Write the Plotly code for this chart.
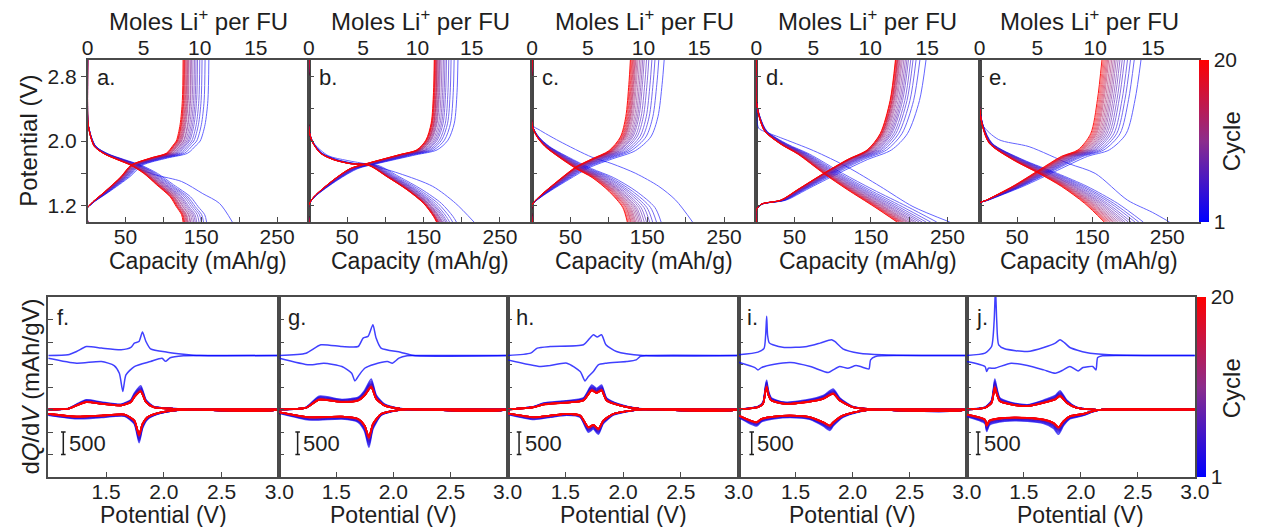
import plotly.graph_objects as go
from plotly.colors import sample_colorscale

W, H = 1262, 527
FONT = "Liberation Sans"
TXT = "#1e1e1e"

# ---------------- colour scale (cycle 1 -> 20) ----------------
cycle_colorscale = [[0.0, "rgb(0,0,255)"], [0.5, "rgb(140,45,140)"], [1.0, "rgb(255,0,0)"]]
cycles = list(range(1, 21))

# ---------------- TOP ROW: potential vs capacity ----------------
top_labels = ["a.", "b.", "c.", "d.", "e."]
cap_per_mole = [14.8, 14.2, 14.5, 14.9, 15.4]        # mAh/g per mole Li+ (top axis)

# panel a
a_ch_cap = [0, 0, 3, 7, 22, 44, 57, 83, 104, 113, 117, 122, 125, 126]
a_ch_V = [1.0, 1.18, 1.21, 1.25, 1.37, 1.56, 1.70, 1.79, 1.85, 1.95, 2.0, 2.2, 2.5, 3.0]
a_dis_cap = [0, 0, 0.4, 4, 9, 22, 39, 57, 74, 91, 109, 117, 124, 126]
a_dis_V = [3.0, 2.3, 2.22, 2.05, 1.93, 1.84, 1.77, 1.70, 1.60, 1.46, 1.31, 1.19, 1.09, 1.0]
a_dis1_cap = [0, 0, 2, 8, 20, 35, 50, 67, 90, 124, 152, 174, 191]
a_dis1_V = [3.0, 2.3, 2.12, 1.97, 1.86, 1.80, 1.75, 1.66, 1.58, 1.50, 1.35, 1.23, 1.0]
a_ch_end = [160, 155, 151, 148, 145, 143, 141, 139, 137, 136, 134, 133, 132, 131, 130, 129, 128, 127.5, 127, 126]
a_dis_end = [157, 153, 150, 147, 144, 142, 140, 138, 136, 135, 133, 132, 131, 130, 129, 128, 127.5, 127, 126]

# panel b
b_ch_cap = [0, 0, 6.5, 32, 54, 75, 118, 141, 153, 160, 163, 164]
b_ch_V = [1.0, 1.21, 1.31, 1.52, 1.66, 1.72, 1.83, 1.89, 2.01, 2.22, 2.6, 3.0]
b_dis_cap = [0, 0, 4.5, 15, 32, 54, 78, 102, 128, 150, 163, 167]
b_dis_V = [3.0, 2.15, 1.99, 1.85, 1.77, 1.72, 1.70, 1.56, 1.40, 1.23, 1.07, 1.0]
b_dis1_cap = [0, 0, 6, 25, 50, 78, 118, 162, 192, 216]
b_dis1_V = [3.0, 2.15, 1.98, 1.82, 1.76, 1.71, 1.60, 1.44, 1.23, 1.0]
b_ch_end = [195, 190, 186, 183, 180, 178, 176, 174, 172, 171, 170, 169, 168, 167.5, 167, 166, 165.5, 165, 164.5, 164]
b_dis_end = [193, 188, 184, 181, 179, 177, 175, 174, 173, 172, 171, 170, 169.5, 169, 168.5, 168, 167.5, 167.2, 167]

# panel c
c_ch_cap = [0, 0, 9, 35, 57, 78, 100, 115, 122, 126, 128]
c_ch_V = [1.0, 1.21, 1.31, 1.52, 1.68, 1.78, 1.88, 2.05, 2.3, 2.7, 3.0]
c_dis_cap = [0, 0, 6.5, 17, 35, 57, 78, 100, 118, 124]
c_dis_V = [3.0, 2.2, 2.05, 1.93, 1.80, 1.66, 1.55, 1.38, 1.18, 1.0]
c_dis1_cap = [0, 0, 9, 35, 78, 104, 135, 165, 187, 209]
c_dis1_V = [3.0, 2.2, 2.14, 2.0, 1.80, 1.72, 1.60, 1.44, 1.27, 1.0]
c_ch_end = [172, 165, 160, 156, 152, 149, 146, 144, 142, 140, 138, 136.5, 135, 134, 133, 132, 131, 130, 129, 128]
c_dis_end = [168, 162, 157, 153, 149, 146, 143, 141, 139, 137, 135, 133.5, 132, 130.5, 129, 128, 126.5, 125, 124]

# panel d
d_ch_cap = [0, 0, 6.5, 32, 54, 88, 119, 145, 162, 175, 182]
d_ch_V = [1.0, 1.15, 1.22, 1.27, 1.40, 1.60, 1.77, 1.89, 2.09, 2.5, 3.0]
d_dis_cap = [0, 0, 4, 11, 32, 54, 88, 119, 154, 184]
d_dis_V = [3.0, 2.5, 2.29, 2.12, 1.96, 1.84, 1.60, 1.40, 1.19, 1.0]
d_dis1_cap = [0, 0, 3, 10, 32, 75, 119, 162, 205, 253]
d_dis1_V = [3.0, 2.5, 2.16, 2.12, 2.04, 1.88, 1.68, 1.44, 1.19, 1.0]
d_ch_end = [222, 214, 209, 205, 202, 199, 197, 195, 193, 191, 189.5, 188, 187, 186, 185, 184.5, 184, 183, 182.5, 182]
d_dis_end = [236, 228, 222, 217, 213, 209, 206, 203, 200, 198, 196, 194, 192, 190.5, 189, 187.5, 186.5, 185, 184]

# panel e
e_ch_cap = [0, 0, 9, 44, 79, 109, 131, 148, 157, 163]
e_ch_V = [1.0, 1.23, 1.27, 1.44, 1.64, 1.81, 1.89, 2.09, 2.51, 3.0]
e_dis_cap = [0, 0, 4, 13, 44, 79, 109, 140, 166]
e_dis_V = [3.0, 2.42, 2.18, 1.97, 1.77, 1.60, 1.44, 1.23, 1.0]
e_dis1_cap = [0, 0, 4, 25, 66, 119, 154, 197, 230, 253]
e_dis1_V = [3.0, 2.42, 2.20, 2.02, 1.93, 1.72, 1.60, 1.27, 1.12, 1.0]
e_ch_end = [215, 206, 201, 197, 193, 190, 187, 184.5, 182, 180, 178, 176, 174, 172, 170.5, 169, 167.5, 166, 164.5, 163]
e_dis_end = [218, 212, 207, 202, 198, 194, 191, 188, 185, 182.5, 180, 178, 176, 174, 172, 170.5, 169, 167.5, 166]

# ---------------- BOTTOM ROW: dQ/dV vs potential ----------------
bot_labels = ["f.", "g.", "h.", "i.", "j."]

# panel f
f_c1_ch_V = [1.0, 1.17, 1.245, 1.33, 1.46, 1.63, 1.715, 1.745, 1.785, 1.815, 1.845, 1.885, 2.03, 2.17, 2.31, 3.0]
f_c1_ch_q = [0, 15, 89, 200, 164, 126, 178, 275, 312, 520, 312, 149, 74, 30, 0, 0]
f_c1_dis_V = [1.0, 1.245, 1.46, 1.57, 1.615, 1.645, 1.672, 1.745, 1.885, 1.985, 2.015, 2.055, 2.17, 2.31, 3.0]
f_c1_dis_q = [-60, -171, -134, -223, -394, -800, -430, -245, -134, -60, -130, -50, -7, 0, 0]
f_ch_V = [1.0, 1.17, 1.245, 1.33, 1.46, 1.63, 1.715, 1.745, 1.80, 1.845, 1.91, 2.085, 2.26, 2.99, 3.0]
f_ch_q = [0, 15, 89, 164, 126, 89, 164, 275, 400, 164, 52, 15, 0, 0, 120]
f_dis_V = [1.0, 1.245, 1.46, 1.66, 1.745, 1.786, 1.815, 1.857, 1.943, 2.085, 2.26, 3.0]
f_dis_q = [-97, -156, -134, -112, -245, -560, -320, -171, -82, -22, 0, 0]
f_fac = [1.32, 1.24, 1.18, 1.14, 1.11, 1.09, 1.07, 1.06, 1.05, 1.04, 1.03, 1.025, 1.02, 1.015, 1.01, 1.007, 1.004, 1.002, 1.0]

# panel g
g_c1_ch_V = [1.0, 1.234, 1.363, 1.548, 1.691, 1.734, 1.777, 1.82, 1.848, 1.891, 2.062, 2.177, 3.0]
g_c1_ch_q = [0, 52, 238, 200, 200, 387, 424, 684, 387, 164, 74, 0, 0]
g_c1_dis_V = [1.0, 1.263, 1.39, 1.548, 1.634, 1.662, 1.70, 1.748, 1.834, 1.948, 1.991, 2.048, 2.12, 2.177, 3.0]
g_c1_dis_q = [-60, -208, -171, -245, -394, -565, -431, -283, -193, -134, -171, -60, -7, 0, 0]
g_ch_V = [1.0, 1.234, 1.348, 1.548, 1.691, 1.748, 1.805, 1.848, 1.92, 2.062, 2.205, 2.99, 3.0]
g_ch_q = [0, 37, 216, 164, 200, 312, 498, 238, 89, 15, 0, 0, 120]
g_dis_V = [1.0, 1.263, 1.548, 1.691, 1.748, 1.785, 1.82, 1.891, 1.977, 2.12, 3.0]
g_dis_q = [-60, -171, -156, -208, -357, -617, -320, -97, -37, 0, 0]
g_fac = [1.36, 1.27, 1.2, 1.15, 1.12, 1.1, 1.08, 1.065, 1.05, 1.04, 1.03, 1.025, 1.02, 1.015, 1.01, 1.007, 1.004, 1.002, 1.0]

# panel h
h_c1_ch_V = [1.0, 1.20, 1.257, 1.37, 1.657, 1.714, 1.743, 1.777, 1.814, 1.852, 1.943, 2.172, 3.0]
h_c1_ch_q = [0, 52, 164, 200, 238, 387, 461, 410, 461, 238, 89, 0, 0]
h_c1_dis_V = [1.0, 1.286, 1.37, 1.514, 1.629, 1.671, 1.70, 1.743, 1.786, 1.857, 2.03, 2.114, 2.15, 2.2, 3.0]
h_c1_dis_q = [-97, -245, -220, -171, -357, -565, -469, -357, -208, -171, -134, -97, -20, 0, 0]
h_ch_V = [1.0, 1.228, 1.314, 1.50, 1.657, 1.729, 1.771, 1.814, 1.857, 1.971, 2.143, 2.30, 2.99, 3.0]
h_ch_q = [0, 52, 112, 150, 200, 424, 365, 424, 200, 89, 15, 0, 0, 120]
h_dis_V = [1.0, 1.228, 1.371, 1.514, 1.629, 1.70, 1.743, 1.786, 1.829, 1.914, 2.03, 2.17, 3.0]
h_dis_q = [-82, -171, -134, -97, -134, -394, -340, -430, -245, -97, -37, 0, 0]
h_fac = [1.28, 1.21, 1.16, 1.12, 1.1, 1.08, 1.065, 1.05, 1.04, 1.03, 1.025, 1.02, 1.015, 1.01, 1.007, 1.005, 1.003, 1.001, 1.0]

# panel i
i_c1_ch_V = [1.0, 1.17, 1.223, 1.237, 1.246, 1.254, 1.269, 1.30, 1.40, 1.60, 1.714, 1.814, 1.843, 1.914, 2.06, 2.26, 2.6, 3.0]
i_c1_ch_q = [15, 74, 160, 450, 870, 450, 280, 238, 178, 200, 275, 350, 312, 149, 52, 15, 0, 0]
i_c1_dis_V = [1.0, 1.143, 1.17, 1.20, 1.314, 1.457, 1.629, 1.786, 1.829, 1.886, 1.957, 2.03, 2.114, 2.143, 2.157, 2.20, 2.4, 3.0]
i_c1_dis_q = [-149, -268, -320, -268, -193, -156, -245, -379, -320, -245, -283, -223, -283, -298, -97, -22, 0, 0]
i_ch_V = [1.0, 1.17, 1.214, 1.237, 1.246, 1.26, 1.286, 1.40, 1.60, 1.743, 1.829, 1.886, 2.0, 2.2, 2.99, 3.0]
i_ch_q = [0, 52, 126, 420, 498, 330, 200, 126, 164, 238, 350, 200, 52, 0, 0, 120]
i_dis_V = [1.0, 1.157, 1.20, 1.314, 1.457, 1.629, 1.743, 1.80, 1.829, 1.914, 2.06, 2.2, 3.0]
i_dis_q = [-134, -283, -208, -156, -134, -171, -283, -357, -283, -134, -37, 0, 0]
i_fac = [1.3, 1.22, 1.17, 1.13, 1.1, 1.08, 1.065, 1.05, 1.04, 1.03, 1.025, 1.02, 1.015, 1.01, 1.007, 1.005, 1.003, 1.001, 1.0]

# panel j
j_c1_ch_V = [1.0, 1.16, 1.218, 1.24, 1.252, 1.263, 1.28, 1.332, 1.532, 1.675, 1.776, 1.818, 1.861, 1.904, 2.047, 2.247, 2.56, 3.0]
j_c1_ch_q = [0, 52, 200, 760, 1500, 760, 238, 149, 89, 178, 275, 350, 275, 178, 67, 15, 0, 0]
j_c1_dis_V = [1.0, 1.16, 1.175, 1.19, 1.246, 1.389, 1.532, 1.675, 1.776, 1.847, 1.904, 1.976, 2.019, 2.105, 2.133, 2.148, 2.19, 2.39, 3.0]
j_c1_dis_q = [-134, -245, -357, -283, -283, -171, -223, -320, -394, -320, -245, -342, -268, -245, -320, -45, -7, 0, 0]
j_ch_V = [1.0, 1.16, 1.218, 1.246, 1.26, 1.289, 1.389, 1.532, 1.675, 1.776, 1.818, 1.876, 1.961, 2.105, 3.0]
j_ch_q = [0, 37, 149, 484, 372, 186, 112, 74, 149, 223, 298, 149, 37, 0, 0]
j_dis_V = [1.0, 1.16, 1.175, 1.20, 1.332, 1.532, 1.675, 1.761, 1.804, 1.847, 1.904, 2.019, 2.105, 2.19, 3.0]
j_dis_q = [-112, -223, -350, -245, -186, -186, -223, -298, -394, -260, -149, -97, -37, 0, 0]
j_fac = [1.4, 1.3, 1.22, 1.17, 1.13, 1.1, 1.08, 1.065, 1.05, 1.04, 1.03, 1.025, 1.02, 1.015, 1.01, 1.007, 1.004, 1.002, 1.0]

cycle1_offset = 1200          # vertical offset of the cycle-1 dQ/dV trace
scale_bar_V = [1.13, 1.16, 1.10, 1.115, 1.10]

# ---------------- assemble ----------------
top = [
    (a_ch_cap, a_ch_V, a_dis_cap, a_dis_V, a_dis1_cap, a_dis1_V, a_ch_end, a_dis_end),
    (b_ch_cap, b_ch_V, b_dis_cap, b_dis_V, b_dis1_cap, b_dis1_V, b_ch_end, b_dis_end),
    (c_ch_cap, c_ch_V, c_dis_cap, c_dis_V, c_dis1_cap, c_dis1_V, c_ch_end, c_dis_end),
    (d_ch_cap, d_ch_V, d_dis_cap, d_dis_V, d_dis1_cap, d_dis1_V, d_ch_end, d_dis_end),
    (e_ch_cap, e_ch_V, e_dis_cap, e_dis_V, e_dis1_cap, e_dis1_V, e_ch_end, e_dis_end),
]
bottom = [
    (f_c1_ch_V, f_c1_ch_q, f_c1_dis_V, f_c1_dis_q, f_ch_V, f_ch_q, f_dis_V, f_dis_q, f_fac),
    (g_c1_ch_V, g_c1_ch_q, g_c1_dis_V, g_c1_dis_q, g_ch_V, g_ch_q, g_dis_V, g_dis_q, g_fac),
    (h_c1_ch_V, h_c1_ch_q, h_c1_dis_V, h_c1_dis_q, h_ch_V, h_ch_q, h_dis_V, h_dis_q, h_fac),
    (i_c1_ch_V, i_c1_ch_q, i_c1_dis_V, i_c1_dis_q, i_ch_V, i_ch_q, i_dis_V, i_dis_q, i_fac),
    (j_c1_ch_V, j_c1_ch_q, j_c1_dis_V, j_c1_dis_q, j_ch_V, j_ch_q, j_dis_V, j_dis_q, j_fac),
]

colors = sample_colorscale(cycle_colorscale, [(k - 1) / 19 for k in cycles])

top_px = [(83, 308), (308, 535), (535, 763), (763, 990), (990, 1213)]
bot_px = [(43, 278), (278, 510), (510, 745), (745, 977), (977, 1209)]
top_y = (60, 222)
bot_y = (297, 477)
CAP_MAX = 292


def xd(px):
    return [px[0] / W, px[1] / W]


def yd(py):
    return [1 - py[1] / H, 1 - py[0] / H]


def r(n, a="x"):
    return a if n == 1 else f"{a}{n}"


def lk(n, a="x"):
    return f"{a}axis" if n == 1 else f"{a}axis{n}"


fig = go.Figure()
layout = {}
annotations = []
shapes = []

axis_common = dict(showline=True, linecolor="#4a4a4a", linewidth=1.5, mirror=True,
                   showgrid=False, zeroline=False, ticklen=5, tickwidth=1.2, tickcolor="#4a4a4a",
                   tickfont=dict(family=FONT, size=21, color=TXT))
minor_in = dict(ticks="inside", ticklen=5, tickwidth=1.2, tickcolor="#4a4a4a", showgrid=False)

# top row
for p, (ch_cap, ch_V, dis_cap, dis_V, dis1_cap, dis1_V, ch_end, dis_end) in enumerate(top):
    n = p + 1
    xr, yr = r(n, "x"), r(n, "y")
    for k in cycles:
        col = colors[k - 1]
        s = ch_end[k - 1] / ch_end[-1]
        fig.add_trace(go.Scatter(x=[c * s for c in ch_cap], y=ch_V, mode="lines",
                                 line=dict(color=col, width=1, shape="spline", smoothing=0.8),
                                 opacity=0.6 if k < 20 else 0.9, xaxis=xr, yaxis=yr,
                                 hoverinfo="skip", showlegend=False))
        if k == 1:
            dx, dy = dis1_cap, dis1_V
        else:
            sd = dis_end[k - 2] / dis_end[-1]
            dx, dy = [c * sd for c in dis_cap], dis_V
        fig.add_trace(go.Scatter(x=dx, y=dy, mode="lines",
                                 line=dict(color=col, width=1, shape="spline", smoothing=0.8),
                                 opacity=0.6 if k < 20 else 0.9, xaxis=xr, yaxis=yr,
                                 hoverinfo="skip", showlegend=False))
    # trace for the moles (top) axis
    fig.add_trace(go.Scatter(x=[0, CAP_MAX / cap_per_mole[p]], y=[None, None], mode="lines",
                             xaxis=r(n + 10, "x"), yaxis=yr, hoverinfo="skip", showlegend=False))
    layout[lk(n, "x")] = dict(axis_common, domain=xd(top_px[p]), anchor=yr, range=[0, CAP_MAX],
                              tickvals=[50, 150, 250], ticks="inside", ticklabelstandoff=-5,
                              minor=dict(minor_in, tickvals=[100, 200]))
    layout[lk(n + 10, "x")] = dict(axis_common, overlaying=xr, anchor=yr, side="top",
                                   range=[0, CAP_MAX / cap_per_mole[p]], tickvals=[0, 5, 10, 15],
                                   ticks="", showline=False)
    ycfg = dict(axis_common, domain=yd(top_y), anchor=xr, range=[1.0, 3.0],
                tickvals=[1.2, 2.0, 2.8], tickformat=".1f")
    if p == 0:
        ycfg.update(ticks="outside", minor=dict(minor_in, ticks="outside", tickvals=[1.6, 2.4]))
    else:
        ycfg.update(showticklabels=False, ticks="inside", minor=dict(minor_in, tickvals=[1.6, 2.4]))
    layout[lk(n, "y")] = ycfg
    annotations.append(dict(text=top_labels[p], xref=f"{xr} domain", yref=f"{yr} domain",
                            x=0.035, y=0.89, xanchor="left", yanchor="middle", showarrow=False,
                            font=dict(family=FONT, size=22, color=TXT)))
    cx = (top_px[p][0] + top_px[p][1]) / 2 / W
    annotations.append(dict(text="Moles Li<sup>+</sup> per FU", xref="paper", yref="paper",
                            x=cx, y=1 - 20 / H, xanchor="center", yanchor="middle", showarrow=False,
                            font=dict(family=FONT, size=24, color=TXT)))
    annotations.append(dict(text="Capacity (mAh/g)", xref="paper", yref="paper",
                            x=cx, y=1 - 261 / H, xanchor="center", yanchor="middle", showarrow=False,
                            font=dict(family=FONT, size=23, color=TXT)))

# bottom row
for p, (c1cV, c1cq, c1dV, c1dq, chV, chq, dV, dq, fac) in enumerate(bottom):
    n = p + 6
    xr, yr = r(n, "x"), r(n, "y")
    for V, q in ((c1cV, c1cq), (c1dV, c1dq)):
        fig.add_trace(go.Scatter(x=V, y=[v + cycle1_offset for v in q], mode="lines",
                                 line=dict(color=colors[0], width=1.5, shape="spline", smoothing=0.6),
                                 opacity=0.75, xaxis=xr, yaxis=yr, hoverinfo="skip", showlegend=False))
    for k in cycles[1:]:
        f = fac[k - 2]
        for V, q in ((chV, chq), (dV, dq)):
            fig.add_trace(go.Scatter(x=V, y=[v * f for v in q], mode="lines",
                                     line=dict(color=colors[k - 1], width=1.6, shape="spline", smoothing=0.6),
                                     opacity=0.7 if k < 20 else 0.95, xaxis=xr, yaxis=yr,
                                     hoverinfo="skip", showlegend=False))
    layout[lk(n, "x")] = dict(axis_common, domain=xd(bot_px[p]), anchor=yr, range=[1.0, 3.0],
                              tickvals=[1.5, 2.0, 2.5, 3.0], tickformat=".1f",
                              ticks="inside", ticklabelstandoff=-5)
    layout[lk(n, "y")] = dict(axis_common, domain=yd(bot_y), anchor=xr, range=[-1500, 2500],
                              tickvals=[-1000, -500, 0, 500, 1000, 1500, 2000],
                              showticklabels=False, ticks="inside")
    annotations.append(dict(text=bot_labels[p], xref=f"{xr} domain", yref=f"{yr} domain",
                            x=0.03, y=0.885, xanchor="left", yanchor="middle", showarrow=False,
                            font=dict(family=FONT, size=22, color=TXT)))
    cx = (bot_px[p][0] + bot_px[p][1]) / 2 / W
    annotations.append(dict(text="Potential (V)", xref="paper", yref="paper",
                            x=cx, y=1 - 515 / H, xanchor="center", yanchor="middle", showarrow=False,
                            font=dict(family=FONT, size=23, color=TXT)))
    # 500 scale bar
    bx = scale_bar_V[p]
    for x0, y0, x1, y1 in ((bx, -1000, bx, -500), (bx - 0.02, -500, bx + 0.02, -500),
                           (bx - 0.02, -1000, bx + 0.02, -1000)):
        shapes.append(dict(type="line", xref=xr, yref=yr, x0=x0, y0=y0, x1=x1, y1=y1,
                           line=dict(color=TXT, width=1.5)))
    annotations.append(dict(text="500", xref=xr, yref=yr, x=bx + 0.03, y=-750, xanchor="left",
                            yanchor="middle", showarrow=False, font=dict(family=FONT, size=22, color=TXT)))

# y titles
annotations.append(dict(text="Potential (V)", xref="paper", yref="paper", x=22 / W, y=1 - 141 / H,
                        textangle=-90, showarrow=False, xanchor="center", yanchor="middle",
                        font=dict(family=FONT, size=24, color=TXT)))
annotations.append(dict(text="d<i>Q</i>/d<i>V</i> (mAh/gV)", xref="paper", yref="paper", x=24 / W,
                        y=1 - 387 / H, textangle=-90, showarrow=False, xanchor="center", yanchor="middle",
                        font=dict(family=FONT, size=24, color=TXT)))

# colour bars
for (x0, th, py, cyc_y) in ((1213, 10, top_y, 141), (1211, 9, bot_y, 388)):
    fig.add_trace(go.Scatter(
        x=[None, None], y=[None, None], mode="markers", xaxis="x", yaxis="y", hoverinfo="skip",
        showlegend=False,
        marker=dict(color=[1, 20], cmin=1, cmax=20, colorscale=cycle_colorscale, showscale=True,
                    colorbar=dict(x=x0 / W, xanchor="left", xpad=0, ypad=0, thickness=th,
                                  lenmode="fraction", len=(py[1] - py[0]) / H,
                                  y=1 - (py[0] + py[1]) / 2 / H, yanchor="middle",
                                  outlinewidth=0, tickvals=[1, 20], ticks="",
                                  tickfont=dict(family=FONT, size=21, color=TXT)))))
    annotations.append(dict(text="Cycle", xref="paper", yref="paper", x=1246 / W, y=1 - cyc_y / H,
                            textangle=-90, showarrow=False, xanchor="center", yanchor="middle",
                            font=dict(family=FONT, size=24, color=TXT)))

fig.update_layout(width=W, height=H, margin=dict(l=0, r=0, t=0, b=0), autosize=False,
                  paper_bgcolor="white", plot_bgcolor="white", showlegend=False,
                  annotations=annotations, shapes=shapes, **layout)

fig.write_html("out.html", config={"displayModeBar": False},
               post_script="document.body.style.margin='0';document.body.style.overflow='hidden';")
